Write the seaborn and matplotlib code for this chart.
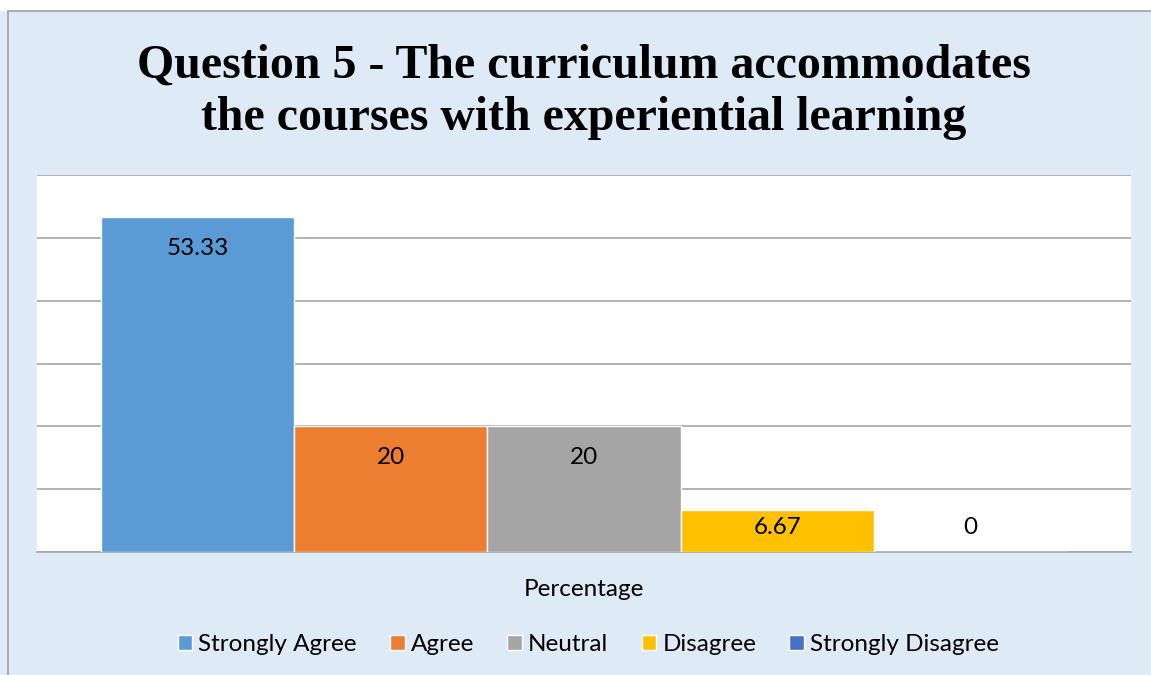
import matplotlib
matplotlib.use('Agg')
import pandas as pd
import numpy as np
import matplotlib.pyplot as plt
import seaborn as sns
from matplotlib.patches import Rectangle
from matplotlib.lines import Line2D

responses = ['Strongly Agree', 'Agree', 'Neutral', 'Disagree', 'Strongly Disagree']
values = [53.33, 20, 20, 6.67, 0]
value_labels = ['53.33', '20', '20', '6.67', '0']
category = 'Percentage'
colors = ['#5B9BD5', '#ED7D31', '#A5A5A5', '#FFC000', '#4472C4']

df = pd.DataFrame({'cat': [category] * len(responses), 'resp': responses, 'val': values})

sns.set_style('white')
plt.rcParams['font.family'] = ['Lato', 'DejaVu Sans']
plt.rcParams['text.color'] = 'black'

bg = '#DEEAF6'
fig = plt.figure(figsize=(11.51, 6.75), dpi=100, facecolor=bg)
# white strip on top and thin chart border
fig.patches.append(Rectangle((0, 1 - 11 / 675), 1, 11 / 675, transform=fig.transFigure,
                             facecolor='white', edgecolor='none', zorder=0))
fig.lines.append(Line2D([8 / 1151, 1], [1 - 11 / 675, 1 - 11 / 675], transform=fig.transFigure,
                        color='#A0A0A0', lw=1.2))
fig.lines.append(Line2D([8 / 1151, 8 / 1151], [0, 1 - 11 / 675], transform=fig.transFigure,
                        color='#A0A0A0', lw=1.2))

ax = fig.add_axes([37 / 1151, 123 / 675, 1094 / 1151, 377 / 675])
ax.set_facecolor('white')
sns.barplot(data=df, x='cat', y='val', hue='resp', hue_order=responses,
            palette=dict(zip(responses, colors)), width=0.883, dodge=True,
            edgecolor='white', linewidth=1, saturation=1, ax=ax, zorder=3, legend=True)

ax.set_xlim(-0.5, 0.5)
ax.set_ylim(0, 60)
ax.set_yticks(np.arange(0, 61, 10))
ax.set_yticklabels([])
ax.tick_params(axis='y', length=0)
ax.tick_params(axis='x', length=0, labelsize=17.5, pad=19.5, colors='black')
ax.grid(axis='y', color='#A6A6A6', lw=1.2, zorder=0)
ax.set_axisbelow(True)
for s in ['left', 'right', 'top']:
    ax.spines[s].set_visible(False)
ax.spines['bottom'].set_color('#A6A6A6')
ax.spines['bottom'].set_linewidth(1.2)
ax.set_xlabel('')
ax.set_ylabel('')

# value labels, inside end of each bar
i = 0
for bars in ax.containers:
    for rect in bars:
        xc = rect.get_x() + rect.get_width() / 2
        v = rect.get_height()
        ax.text(xc, max(v - 5.0, 3.9), value_labels[i], ha='center', va='center',
                fontsize=17.5, color='black', zorder=5)
        i += 1

ax.legend(loc='center', bbox_to_anchor=(0.504, -0.245), ncol=5, frameon=False,
          fontsize=17.5, handlelength=0.6, handleheight=0.6, handletextpad=0.25,
          columnspacing=1.37, borderaxespad=0)

fig.text(584 / 1151, 0.864,
         'Question 5 - The curriculum accommodates\nthe courses with experiential learning',
         ha='center', va='center', fontsize=34.5, fontweight='bold',
         family='Liberation Serif', linespacing=1.22, color='black')

fig.savefig('out.png', dpi=100, facecolor=bg)
